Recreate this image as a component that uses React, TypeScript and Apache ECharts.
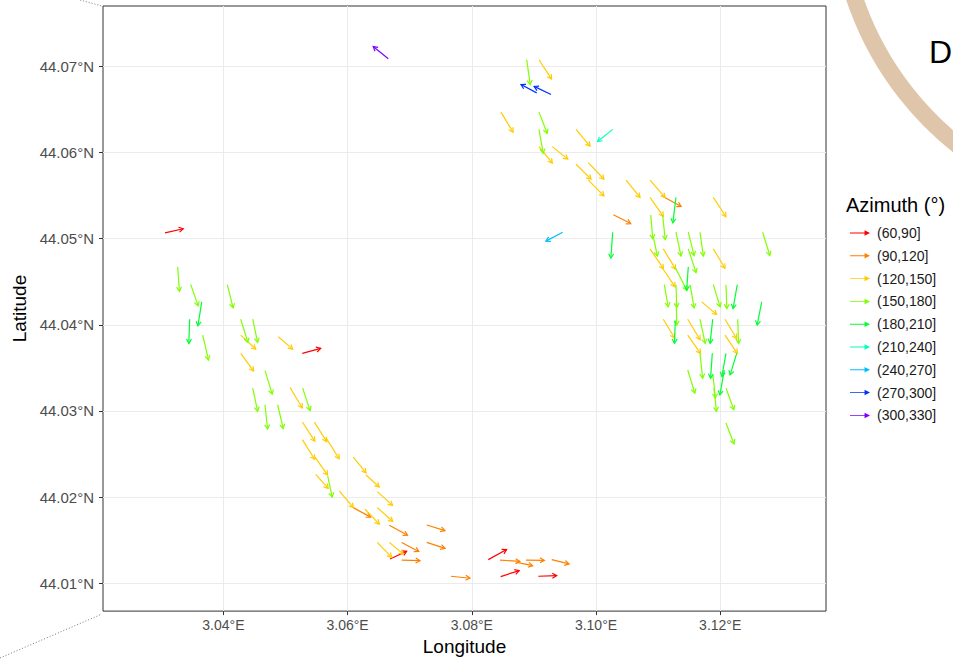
import React, { useEffect, useRef } from 'react';
import * as echarts from 'echarts';

// Start longitude of each displacement arrow (°E)
const LON = [
  3.03060, 3.03264, 3.03473, 3.03651, 3.03457, 3.03667, 3.04063, 3.04279, 3.04472, 3.04279,
  3.04884, 3.05271, 3.04279, 3.04670, 3.04472, 3.05072, 3.05277, 3.04670, 3.04874,
  3.05271, 3.05464, 3.05647, 3.05271, 3.05475, 3.05486, 3.05680, 3.06092, 3.06296, 3.06478,
  3.05866, 3.06092, 3.06280, 3.06478, 3.06672, 3.06871, 3.07274, 3.07274, 3.06478, 3.06672,
  3.06683, 3.06871, 3.07665,
  3.08266, 3.08454, 3.08723, 3.08873, 3.09287, 3.08465, 3.09071,
  3.06655,
  3.08884, 3.09082, 3.09045, 3.09275, 3.08470, 3.09082, 3.09082, 3.09082, 3.09296, 3.09678,
  3.10269, 3.09678, 3.09876, 3.09876, 3.10279, 3.09464, 3.10269,
  3.10483, 3.10870, 3.11058, 3.11288, 3.10870, 3.11889, 3.10881, 3.10923, 3.11074, 3.11288,
  3.11486, 3.11675, 3.11486, 3.11889, 3.12684, 3.10870, 3.11084, 3.11058, 3.11272, 3.11486,
  3.11100, 3.11288, 3.11293, 3.11514, 3.11702, 3.11889, 3.12093, 3.12275, 3.12668,
  3.11084, 3.11277, 3.11477, 3.11675, 3.11879, 3.12077, 3.12282, 3.11477, 3.12077, 3.11675,
  3.11873, 3.12093, 3.12266, 3.11477, 3.11884, 3.11900, 3.12066, 3.12093, 3.12093,
];

// Start latitude of each arrow (°N)
const LAT = [
  44.05067, 44.04671, 44.04470, 44.04266, 44.04065, 44.03880, 44.04466, 44.04065, 44.04065, 44.03880,
  44.03862, 44.03669, 44.03669, 44.03469, 44.03265, 44.03273, 44.03265, 44.03072, 44.03072,
  44.02872, 44.02872, 44.02695, 44.02667, 44.02464, 44.02263, 44.02244, 44.02464, 44.02256, 44.02063,
  44.02071, 44.01878, 44.01859, 44.01878, 44.01674, 44.01474, 44.01676, 44.01474, 44.01474, 44.01474,
  44.01281, 44.01269, 44.01081,
  44.01274, 44.01269, 44.01243, 44.01269, 44.01274, 44.01077, 44.01081,
  44.07089,
  44.07077, 44.07077, 44.06693, 44.06673, 44.06469, 44.06469, 44.06269, 44.06069, 44.06069, 44.06269,
  44.06269, 44.05864, 44.05884, 44.05679, 44.05278, 44.05075, 44.05075,
  44.05679, 44.05679, 44.05498, 44.05480, 44.05480, 44.05480, 44.05275, 44.05021, 44.05267, 44.05075,
  44.05075, 44.05075, 44.04882, 44.04882, 44.05075, 44.04882, 44.04882, 44.04671, 44.04671, 44.04671,
  44.04466, 44.04466, 44.04270, 44.04466, 44.04266, 44.04466, 44.04466, 44.04466, 44.04266,
  44.04065, 44.04050, 44.04065, 44.04065, 44.04065, 44.04065, 44.04065, 44.03880, 44.03880, 44.03669,
  44.03669, 44.03669, 44.03669, 44.03476, 44.03415, 44.03265, 44.03476, 44.03265, 44.02860,
];

// Azimuth of each arrow (degrees clockwise from north)
const AZIMUTH = [
  77, 176, 161, 189, 182, 167, 166, 163, 168, 133,
  131, 75, 144, 163, 168, 149, 162, 174, 167,
  147, 148, 148, 148, 145, 138, 168, 141, 132, 132,
  140, 119, 136, 132, 119, 118, 107, 108, 136, 130,
  65, 92, 96,
  61, 94, 102, 91, 104, 72, 88,
  309,
  172, 147, 298, 296, 149, 159, 170, 141, 129, 140,
  231, 135, 137, 135, 117, 242, 184,
  141, 139, 119, 187, 145, 147, 175, 168, 174, 168,
  166, 172, 162, 149, 163, 146, 149, 146, 153, 184,
  170, 178, 179, 170, 130, 163, 178, 190, 191,
  149, 182, 149, 168, 186, 149, 178, 145, 146, 174,
  184, 190, 197, 163, 174, 174, 190, 160, 159,
];

// Displacement length of each arrow (metres)
const LENGTH_M = [
  241, 314, 295, 313, 313, 329, 309, 313, 306, 264,
  245, 245, 283, 319, 306, 309, 306, 315, 315,
  296, 300, 329, 299, 283, 242, 277, 260, 230, 265,
  281, 254, 266, 268, 268, 250, 246, 248, 268, 236,
  237, 236, 246,
  269, 257, 210, 236, 230, 251, 237,
  250,
  324, 297, 229, 241, 302, 295, 314, 274, 257, 281,
  250, 273, 295, 286, 252, 245, 336,
  287, 295, 286, 333, 299, 299, 310, 254, 310, 315,
  311, 311, 324, 293, 315, 309, 306, 309, 337, 302,
  291, 296, 305, 305, 251, 300, 309, 313, 306,
  283, 296, 309, 319, 314, 291, 313, 288, 284, 323,
  322, 305, 292, 314, 296, 302, 327, 297, 290,
];

const BIN_LOWER = [60, 90, 120, 150, 180, 210, 240, 270, 300];
const BIN_UPPER = [90, 120, 150, 180, 210, 240, 270, 300, 330];
const BIN_LABELS = ['(60,90]', '(90,120]', '(120,150]', '(150,180]', '(180,210]', '(210,240]', '(240,270]', '(270,300]', '(300,330]'];
const BIN_COLORS = ['#FF0000', '#FF8000', '#FFCC00', '#80FF00', '#00FF33', '#00FFBF', '#00BFFF', '#0033FF', '#7F00FF'];

const X_TICKS = [3.04, 3.06, 3.08, 3.10, 3.12];
const Y_TICKS = [44.01, 44.02, 44.03, 44.04, 44.05, 44.06, 44.07];

const X_MIN = 3.020612;
const X_MAX = 3.137037;
const Y_MIN = 44.006765;
const Y_MAX = 44.077013;

const FONT = 'Liberation Sans, Arial, sans-serif';

function binOf(az: number): number {
  for (let b = 0; b < BIN_LOWER.length; b++) {
    if (az > BIN_LOWER[b] && az <= BIN_UPPER[b]) return b;
  }
  return -1;
}

export default function App() {
  const ref = useRef<HTMLDivElement>(null);

  useEffect(() => {
    if (!ref.current) return;
    const chart = echarts.init(ref.current, null, { renderer: 'svg' });

    const series = BIN_LABELS.map((label, b) => {
      const data: number[][] = [];
      for (let i = 0; i < LON.length; i++) {
        if (binOf(AZIMUTH[i]) === b) data.push([LON[i], LAT[i], AZIMUTH[i], LENGTH_M[i]]);
      }
      return {
        type: 'custom',
        name: label,
        coordinateSystem: 'cartesian2d',
        itemStyle: { color: BIN_COLORS[b] },
        encode: { x: 0, y: 1 },
        clip: true,
        renderItem: (params: any, api: any) => {
          const lon = api.value(0);
          const lat = api.value(1);
          const az = api.value(2);
          const len = api.value(3);
          const r = (az * Math.PI) / 180;
          const dLat = (len * Math.cos(r)) / 111320;
          const dLon = (len * Math.sin(r)) / (111320 * Math.cos((lat * Math.PI) / 180));
          const p0 = api.coord([lon, lat]);
          const p1 = api.coord([lon + dLon, lat + dLat]);
          const th = Math.atan2(p1[1] - p0[1], p1[0] - p0[0]);
          const h = 5;
          const a = Math.PI / 6;
          const h1 = [p1[0] - h * Math.cos(th - a), p1[1] - h * Math.sin(th - a)];
          const h2 = [p1[0] - h * Math.cos(th + a), p1[1] - h * Math.sin(th + a)];
          const color = BIN_COLORS[b];
          return {
            type: 'group',
            children: [
              { type: 'line', shape: { x1: p0[0], y1: p0[1], x2: p1[0], y2: p1[1] }, style: { stroke: color, lineWidth: 1.2 } },
              { type: 'polyline', shape: { points: [h1, p1, h2] }, style: { stroke: color, lineWidth: 1.2, fill: null } },
            ],
          };
        },
        data,
      };
    });

    chart.setOption({
      animation: false,
      backgroundColor: '#ffffff',
      grid: { left: 103, right: 127, top: 6, bottom: 47, show: true, borderColor: '#333333', borderWidth: 1, backgroundColor: 'transparent' },
      title: {
        text: 'Azimuth (°)', left: 846, top: 195, padding: 0,
        textStyle: { fontSize: 20, fontWeight: 'normal', color: '#000000', fontFamily: FONT },
      },
      legend: {
        orient: 'vertical', left: 850, top: 226, padding: 0,
        icon: 'path://M0,4.5L16,4.5L16,2L22,5L16,8L16,5.5L0,5.5Z',
        itemWidth: 20, itemHeight: 7, itemGap: 8.8,
        selectedMode: false,
        textStyle: { fontSize: 14, color: '#1a1a1a', fontFamily: FONT, padding: [0, 0, 0, 2] },
        data: BIN_LABELS,
      },
      xAxis: {
        type: 'value', min: X_MIN, max: X_MAX,
        axisLine: { show: false },
        axisTick: { show: true, customValues: X_TICKS, length: 4, lineStyle: { color: '#333333' } },
        axisLabel: { customValues: X_TICKS, formatter: (v: number) => v.toFixed(2) + '°E', color: '#4d4d4d', fontSize: 14, margin: 7, fontFamily: FONT },
        splitLine: { show: true, lineStyle: { color: '#ebebeb', width: 1 } },
        name: 'Longitude', nameLocation: 'middle', nameGap: 24,
        nameTextStyle: { fontSize: 19, color: '#000000', fontFamily: FONT, verticalAlign: 'top' },
      },
      yAxis: {
        type: 'value', min: Y_MIN, max: Y_MAX,
        axisLine: { show: false },
        axisTick: { show: true, customValues: Y_TICKS, length: 4, lineStyle: { color: '#333333' } },
        axisLabel: { customValues: Y_TICKS, formatter: (v: number) => v.toFixed(2) + '°N', color: '#4d4d4d', fontSize: 15, margin: 9, fontFamily: FONT },
        splitLine: { show: true, lineStyle: { color: '#ebebeb', width: 1 } },
        name: 'Latitude', nameLocation: 'middle', nameGap: 71,
        nameTextStyle: { fontSize: 19, color: '#000000', fontFamily: FONT },
      },
      graphic: [
        {
          type: 'arc', silent: true, z: 10,
          shape: { cx: 1155, cy: -103, r: 317, startAngle: Math.PI * 0.6, endAngle: Math.PI * 0.98 },
          style: { stroke: '#dfc6aa', lineWidth: 17, fill: null },
        },
        {
          type: 'text', silent: true, z: 10, x: 929, y: 52,
          style: { text: 'D', fontSize: 32, fill: '#000000', fontFamily: FONT, verticalAlign: 'middle' },
        },
        {
          type: 'line', silent: true, z: 10,
          shape: { x1: 80, y1: 0, x2: 102, y2: 6 },
          style: { stroke: '#777777', lineWidth: 1, lineDash: [1, 2] },
        },
        {
          type: 'line', silent: true, z: 10,
          shape: { x1: 0, y1: 658, x2: 102, y2: 614 },
          style: { stroke: '#777777', lineWidth: 1, lineDash: [1, 2] },
        },
      ],
      series,
    });

    return () => chart.dispose();
  }, []);

  return (
    <div
      ref={ref}
      style={{ position: 'fixed', left: 0, top: 0, width: 953, height: 661, background: '#ffffff' }}
    />
  );
}
